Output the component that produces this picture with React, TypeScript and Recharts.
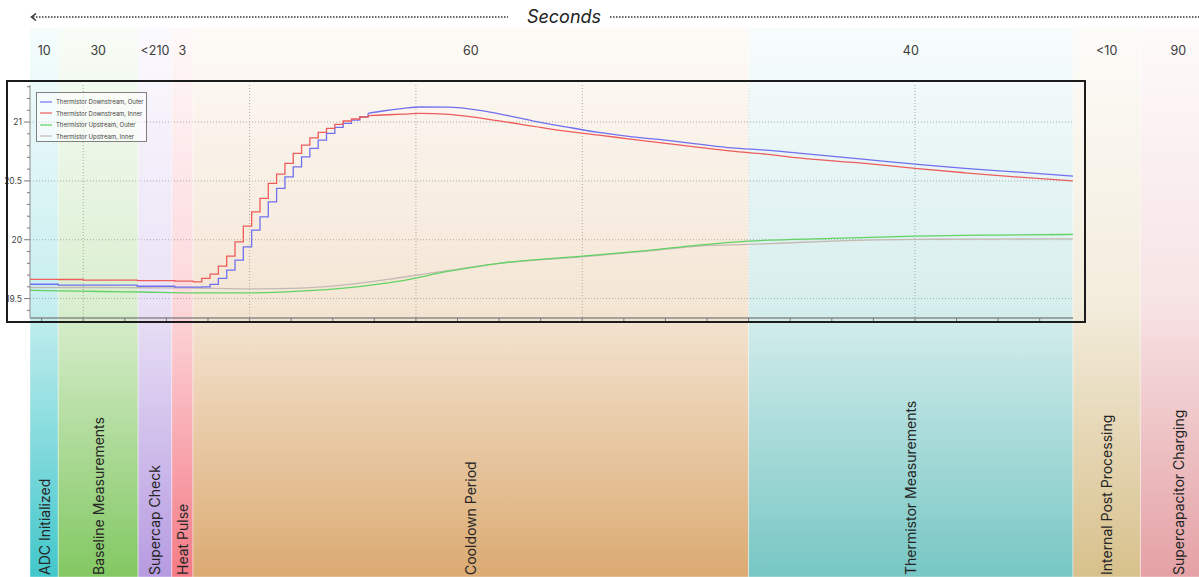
import { ComposedChart, Line, XAxis, YAxis, CartesianGrid, ReferenceArea, Legend } from 'recharts'

const FONT = '"Inter", "Noto Sans", sans-serif'
const W = 1199
const H = 577

/* phases of one measurement cycle, x edges in chart units */
const PHASE_NAMES = [
  'ADC Initialized',
  'Baseline Measurements',
  'Supercap Check',
  'Heat Pulse',
  'Cooldown Period',
  'Thermistor Measurements',
  'Internal Post Processing',
  'Supercapacitor Charging',
]
const PHASE_SECONDS = ['10', '30', '<210', '3', '60', '40', '<10', '90']
const PHASE_EDGES = [-12.8, -6, 13.2, 21.3, 26.4, 160, 238, 254.2, 272.5]
const PHASE_COLORS = ['#38c4c7', '#7cc55a', '#b396df', '#f47480', '#d9a66a', '#70c4c1', '#d5bd85', '#e39ca0']

/* bands run over the whole page, so their y extent is given on the °C scale */
const BAND_TOP = 21.799
const BAND_BOTTOM = 17.134

const SERIES_NAMES = [
  'Thermistor Downstream, Outer',
  'Thermistor Downstream, Inner',
  'Thermistor Upstream, Outer',
  'Thermistor Upstream, Inner',
]
const SERIES_COLORS = ['#7070f0', '#ee5c5c', '#62d262', '#c4bab4']

/* downstream sensors: quantised steps while the pulse arrives */
const STEP_X = [-12.8, -6, 0, 13, 22, 26.5, 28.5, 30.5, 32.5, 34.5, 36.5, 38.5, 40.5, 42.5, 44.5, 46.5, 48.5, 50.5, 52.5, 54.5, 56.5, 58.5, 60.5, 62.5, 64.5, 66.5, 68.5]
const DOWN_OUTER_STEP = [19.622, 19.614, 19.614, 19.605, 19.597, 19.597, 19.6, 19.62, 19.671, 19.741, 19.827, 19.94, 20.082, 20.195, 20.322, 20.436, 20.535, 20.62, 20.705, 20.776, 20.847, 20.904, 20.955, 20.989, 21.017, 21.045, 21.074]
const DOWN_INNER_STEP = [19.663, 19.662, 19.657, 19.652, 19.648, 19.642, 19.671, 19.707, 19.776, 19.861, 19.982, 20.116, 20.237, 20.351, 20.479, 20.558, 20.649, 20.734, 20.804, 20.866, 20.912, 20.946, 20.98, 21.009, 21.026, 21.043, 21.054]

/* downstream sensors: slow decay afterwards */
const TAIL_X = [68.5, 72, 77, 81, 88, 100, 108, 116, 124, 132, 140, 148, 156, 164, 172, 188, 200, 212, 224, 238]
const DOWN_OUTER_TAIL = [21.074, 21.094, 21.116, 21.128, 21.127, 21.07, 21.011, 20.96, 20.912, 20.875, 20.847, 20.813, 20.78, 20.762, 20.736, 20.683, 20.643, 20.606, 20.577, 20.541]
const DOWN_INNER_TAIL = [21.054, 21.06, 21.068, 21.074, 21.065, 21.01, 20.966, 20.923, 20.889, 20.853, 20.819, 20.785, 20.753, 20.728, 20.695, 20.649, 20.606, 20.569, 20.535, 20.501]

/* upstream sensors */
const UP_X = [-12.8, -6, 4, 14, 26, 40, 52, 64, 76, 88, 100, 120, 136, 148, 160, 180, 200, 220, 238]
const UP_OUTER = [19.569, 19.566, 19.56, 19.556, 19.549, 19.549, 19.563, 19.594, 19.648, 19.733, 19.8, 19.86, 19.91, 19.954, 19.988, 20.011, 20.031, 20.04, 20.045]
const UP_INNER = [19.594, 19.594, 19.594, 19.592, 19.59, 19.583, 19.589, 19.62, 19.677, 19.74, 19.8, 19.855, 19.905, 19.946, 19.96, 19.988, 20.003, 20.006, 20.008]

const X_DOMAIN = [-12.8, 238]
const X_TICKS = [-10, 0, 10, 20, 30, 40, 50, 60, 70, 80, 90, 100, 110, 120, 130, 140, 150, 160, 170, 180, 190, 200, 210, 220, 230]
const X_GRID = [0, 40, 80, 120, 160, 200]
const Y_DOMAIN = [19.335, 21.315]
const Y_TICKS = [19.4, 19.5, 19.6, 19.7, 19.8, 19.9, 20, 20.1, 20.2, 20.3, 20.4, 20.5, 20.6, 20.7, 20.8, 20.9, 21, 21.1, 21.2, 21.3]
const Y_GRID = [19.5, 20, 20.5, 21]

function rows(xs: number[], vs: number[]) {
  return xs.map((x, i) => ({ x, v: vs[i] }))
}

function PhaseLabel({ viewBox, index }: any) {
  if (!viewBox) return null
  const { x, y, width, height } = viewBox
  const cx = x + width / 2
  return (
    <g fontFamily={FONT}>
      <text x={cx} y={y + 27} textAnchor="middle" fontSize={12.5} fill="#3a3a3a">
        {PHASE_SECONDS[index]}
      </text>
      <text
        transform={`translate(${cx},${y + height - 2}) rotate(-90)`}
        dominantBaseline="central"
        fontSize={14}
        fill="#262626"
      >
        {PHASE_NAMES[index]}
      </text>
    </g>
  )
}

function YTick({ x, y, payload }: any) {
  const v = payload.value
  const major = Math.abs(v * 2 - Math.round(v * 2)) < 1e-6
  return (
    <g>
      <line x1={x + (major ? 2 : 5)} x2={x + 8} y1={y} y2={y} stroke="#7a7a7a" />
      {major && (
        <text x={x} y={y} dy={3} textAnchor="end" fontSize={8.5} fill="#444" fontFamily={FONT}>
          {String(v)}
        </text>
      )}
    </g>
  )
}

function XTick({ x, y, payload }: any) {
  const major = payload.value % 40 === 0
  return <line x1={x} x2={x} y1={y} y2={y + (major ? 5 : 3)} stroke="#7a7a7a" />
}

function LegendBox() {
  return (
    <div
      style={{
        width: 111,
        height: 50,
        boxSizing: 'border-box',
        border: '1px solid #808080',
        background: 'rgba(255,255,255,0.55)',
        padding: '3px 0 0 3px',
        fontFamily: FONT,
      }}
    >
      {SERIES_NAMES.map((n, i) => (
        <div key={n} style={{ display: 'flex', alignItems: 'center', height: 11.5 }}>
          <svg width={12} height={4} style={{ marginRight: 4, display: 'block' }}>
            <line x1={0} x2={12} y1={2} y2={2} stroke={SERIES_COLORS[i]} strokeWidth={1.2} />
          </svg>
          <span style={{ fontSize: 6, color: '#444', whiteSpace: 'nowrap' }}>{n}</span>
        </div>
      ))}
    </div>
  )
}

export default function App() {
  const lineProps = { dataKey: 'v', dot: false, activeDot: false, strokeWidth: 1.3, isAnimationActive: false } as const
  return (
    <div style={{ position: 'absolute', left: 0, top: 0, width: W, height: H, overflow: 'hidden', background: '#fff' }}>
      <ComposedChart width={W} height={H} margin={{ top: 85, right: 126, bottom: 255, left: 7 }}>
        <defs>
          {PHASE_COLORS.map((c, i) => (
            <linearGradient key={i} id={`band-${i}`} x1="0" y1="0" x2="0" y2="1">
              <stop offset="0%" stopColor={c} stopOpacity={0.05} />
              <stop offset="50%" stopColor={c} stopOpacity={0.28} />
              <stop offset="100%" stopColor={c} stopOpacity={0.95} />
            </linearGradient>
          ))}
        </defs>
        {PHASE_NAMES.map((n, i) => (
          <ReferenceArea
            key={n}
            x1={PHASE_EDGES[i]}
            x2={PHASE_EDGES[i + 1]}
            y1={BAND_BOTTOM}
            y2={BAND_TOP}
            ifOverflow="visible"
            fill={`url(#band-${i})`}
            fillOpacity={1}
            stroke="#ffffff"
            strokeOpacity={0.4}
            label={(p: any) => <PhaseLabel viewBox={p.viewBox} index={i} />}
          />
        ))}
        <CartesianGrid
          stroke="#a9a9a9"
          strokeDasharray="1 2"
          horizontalValues={Y_GRID}
          verticalValues={X_GRID}
        />
        <XAxis
          dataKey="x"
          type="number"
          domain={X_DOMAIN}
          allowDataOverflow
          ticks={X_TICKS}
          interval={0}
          height={4}
          tickSize={0}
          tickMargin={0}
          tickLine={false}
          tick={(p: any) => <XTick {...p} />}
          axisLine={{ stroke: '#8a8a8a', strokeWidth: 1.5 }}
        />
        <YAxis
          type="number"
          domain={Y_DOMAIN}
          allowDataOverflow
          ticks={Y_TICKS}
          interval={0}
          width={23}
          tickSize={6}
          tickMargin={2}
          tickLine={false}
          tick={(p: any) => <YTick {...p} />}
          axisLine={{ stroke: '#8a8a8a' }}
        />
        <Legend
          layout="vertical"
          align="center"
          verticalAlign="middle"
          content={() => <LegendBox />}
          wrapperStyle={{ left: 36, top: 92, width: 111, height: 50 }}
        />
        <Line {...lineProps} data={rows(UP_X, UP_INNER)} type="monotone" stroke={SERIES_COLORS[3]} />
        <Line {...lineProps} data={rows(UP_X, UP_OUTER)} type="monotone" stroke={SERIES_COLORS[2]} />
        <Line {...lineProps} data={rows(STEP_X, DOWN_OUTER_STEP)} type="stepAfter" stroke={SERIES_COLORS[0]} />
        <Line {...lineProps} data={rows(TAIL_X, DOWN_OUTER_TAIL)} type="monotone" stroke={SERIES_COLORS[0]} />
        <Line {...lineProps} data={rows(STEP_X, DOWN_INNER_STEP)} type="stepAfter" stroke={SERIES_COLORS[1]} />
        <Line {...lineProps} data={rows(TAIL_X, DOWN_INNER_TAIL)} type="monotone" stroke={SERIES_COLORS[1]} />
      </ComposedChart>

      {/* time direction header */}
      <svg width={W} height={30} style={{ position: 'absolute', left: 0, top: 0 }}>
        <line x1={33} x2={508} y1={17} y2={17} stroke="#333" strokeWidth={1.5} strokeDasharray="1.5 1.5" />
        <line x1={610} x2={W} y1={17} y2={17} stroke="#333" strokeWidth={1.5} strokeDasharray="1.5 1.5" />
        <polyline points="36,13.5 31.5,17 36,20.5" fill="none" stroke="#333" strokeWidth={1.5} />
        <text x={564} y={23} textAnchor="middle" fontSize={18} fontStyle="italic" fill="#222" fontFamily={FONT}>
          Seconds
        </text>
      </svg>

      {/* frame round the plot */}
      <div
        style={{
          position: 'absolute',
          left: 6,
          top: 80,
          width: 1080,
          height: 243,
          boxSizing: 'border-box',
          border: '2px solid #1c1c1c',
          pointerEvents: 'none',
        }}
      />
    </div>
  )
}
